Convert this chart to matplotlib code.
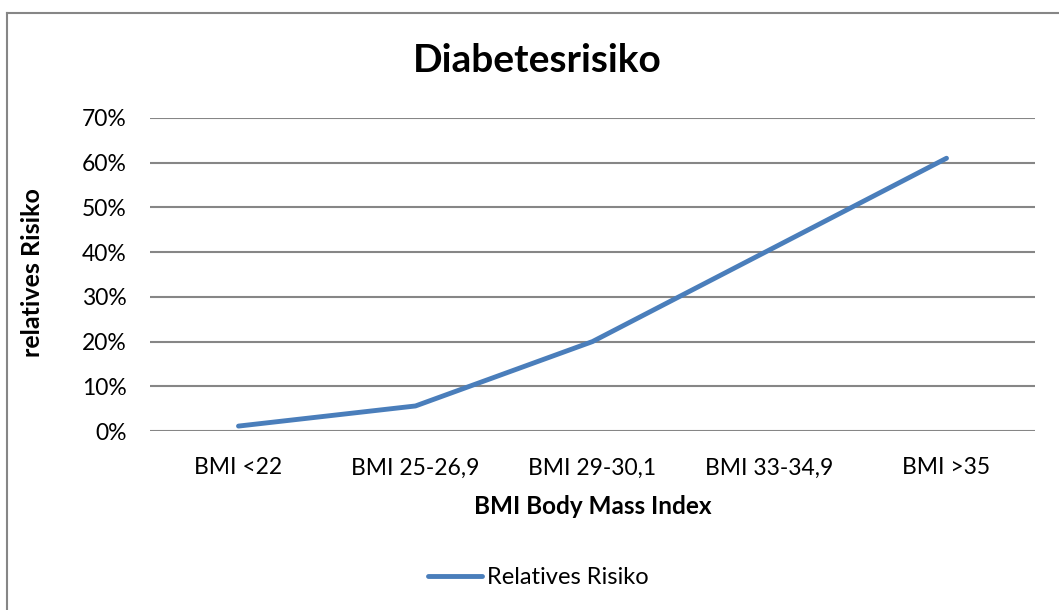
import matplotlib
matplotlib.use("Agg")
import matplotlib.pyplot as plt
from matplotlib.lines import Line2D
from matplotlib.ticker import PercentFormatter

categories = ["BMI <22", "BMI 25-26,9", "BMI 29-30,1", "BMI 33-34,9", "BMI >35"]
relative_risk = [1.1, 5.6, 20.0, 40.5, 61.0]
series_name = "Relatives Risiko"
title = "Diabetesrisiko"
xlabel = "BMI Body Mass Index"
ylabel = "relatives Risiko"
yticks = [0, 10, 20, 30, 40, 50, 60, 70]

plt.rcParams['font.family'] = ['Lato', 'DejaVu Sans']

W, H = 1059, 610
fig = plt.figure(figsize=(W / 100, H / 100), dpi=100)
ax = fig.add_axes([150 / W, 1 - 431 / H, (1035 - 150) / W, (431 - 118) / H])

x = list(range(len(categories)))
line, = ax.plot(x, relative_risk, color="#4a7ebb", linewidth=3.5,
                solid_capstyle="round", solid_joinstyle="round", label=series_name)

ax.set_xlim(-0.5, len(categories) - 0.5)
ax.set_ylim(0, 70)
ax.set_yticks(yticks)
ax.yaxis.set_major_formatter(PercentFormatter(decimals=0))
ax.set_xticks(x)
ax.set_xticklabels(categories)
ax.tick_params(axis="both", length=0, labelsize=16.5, colors="black")
ax.tick_params(axis="y", pad=17)
ax.tick_params(axis="x", pad=19)
ax.grid(axis="y", color="#868686", linewidth=1.5)
ax.set_axisbelow(True)
for s in ax.spines.values():
    s.set_visible(False)

fig.text(537 / W, 1 - 60 / H, title, fontsize=28, fontweight="bold",
         ha="center", va="center")
fig.text(593 / W, 1 - 507 / H, xlabel, fontsize=17.5, fontweight="bold",
         ha="center", va="center")
fig.text(33 / W, 1 - 273 / H, ylabel, fontsize=18, fontweight="bold",
         ha="center", va="center", rotation=90)

fig.legend(handles=[line], loc="center", bbox_to_anchor=(538 / W, 1 - 578 / H),
           frameon=False, fontsize=17, handlelength=2.3, handletextpad=0.2)

# figure border (left and top visible)
fig.add_artist(Line2D([6.5 / W, 6.5 / W], [0, 1 - 12.5 / H], transform=fig.transFigure,
                      color="#868686", linewidth=1.5))
fig.add_artist(Line2D([6.5 / W, 1.0], [1 - 12.5 / H, 1 - 12.5 / H], transform=fig.transFigure,
                      color="#868686", linewidth=1.5))

fig.savefig("out.png", dpi=100)
